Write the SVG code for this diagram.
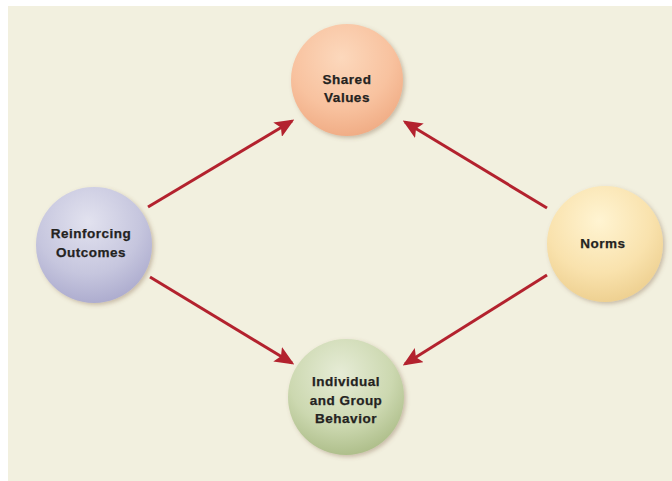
<svg xmlns="http://www.w3.org/2000/svg" width="672" height="481" viewBox="0 0 672 481">
  <style>
    .lbl { font-family: "Liberation Sans", Arial, sans-serif; font-weight: bold; font-size: 13.5px; letter-spacing: 0.5px; fill: #24231f; text-anchor: middle; stroke: #24231f; stroke-width: 0.25px; }
    .conn { stroke: #b3222e; stroke-width: 3; fill: none; marker-end: url(#ah); }
    .ball { filter: url(#sh); }
  </style>
  <defs>
    <marker id="ah" markerWidth="6.5" markerHeight="5.6" refX="5.6" refY="2.8" orient="auto" markerUnits="strokeWidth">
      <path d="M0,0 L6.5,2.8 L0,5.6 L1.3,2.8 Z" fill="#b3222e"/>
    </marker>
    <filter id="sh" x="-20%" y="-20%" width="140%" height="140%">
      <feGaussianBlur in="SourceAlpha" stdDeviation="2"/>
      <feOffset dx="1.5" dy="2" result="b"/>
      <feFlood flood-color="#7a5a40" flood-opacity="0.35"/>
      <feComposite in2="b" operator="in"/>
      <feMerge><feMergeNode/><feMergeNode in="SourceGraphic"/></feMerge>
    </filter>
    <radialGradient id="gPeach" cx="0.45" cy="0.3" r="0.75">
      <stop offset="0" stop-color="#fcd8bc"/>
      <stop offset="0.6" stop-color="#f8c29f"/>
      <stop offset="1" stop-color="#efa981"/>
    </radialGradient>
    <radialGradient id="gLav" cx="0.45" cy="0.3" r="0.75">
      <stop offset="0" stop-color="#e2e2ef"/>
      <stop offset="0.6" stop-color="#c6c6de"/>
      <stop offset="1" stop-color="#a9a8cc"/>
    </radialGradient>
    <radialGradient id="gYel" cx="0.45" cy="0.3" r="0.75">
      <stop offset="0" stop-color="#fff4d2"/>
      <stop offset="0.6" stop-color="#f9e2ad"/>
      <stop offset="1" stop-color="#eccd8c"/>
    </radialGradient>
    <radialGradient id="gGrn" cx="0.45" cy="0.3" r="0.75">
      <stop offset="0" stop-color="#e6ecd6"/>
      <stop offset="0.6" stop-color="#ccd8b0"/>
      <stop offset="1" stop-color="#a9ba84"/>
    </radialGradient>
  </defs>

  <rect x="8" y="6" width="664" height="475" fill="#f2f0df"/>

  <g id="connectors">
    <line class="conn" x1="148" y1="207" x2="292" y2="121"/>
    <line class="conn" x1="547" y1="208" x2="405" y2="122"/>
    <line class="conn" x1="150" y1="277" x2="292" y2="363"/>
    <line class="conn" x1="547" y1="275" x2="405" y2="364"/>
  </g>

  <g id="shared-values">
    <circle class="ball" cx="347" cy="80" r="56" fill="url(#gPeach)"/>
    <text class="lbl" x="347" y="84">Shared</text>
    <text class="lbl" x="347" y="102">Values</text>
  </g>

  <g id="reinforcing-outcomes">
    <circle class="ball" cx="94" cy="245" r="58" fill="url(#gLav)"/>
    <text class="lbl" x="91" y="238">Reinforcing</text>
    <text class="lbl" x="91" y="257">Outcomes</text>
  </g>

  <g id="norms">
    <circle class="ball" cx="605" cy="244" r="58" fill="url(#gYel)"/>
    <text class="lbl" x="603" y="248">Norms</text>
  </g>

  <g id="individual-group-behavior">
    <circle class="ball" cx="346" cy="397" r="58" fill="url(#gGrn)"/>
    <text class="lbl" x="346" y="386">Individual</text>
    <text class="lbl" x="346" y="405">and Group</text>
    <text class="lbl" x="346" y="423">Behavior</text>
  </g>
</svg>
